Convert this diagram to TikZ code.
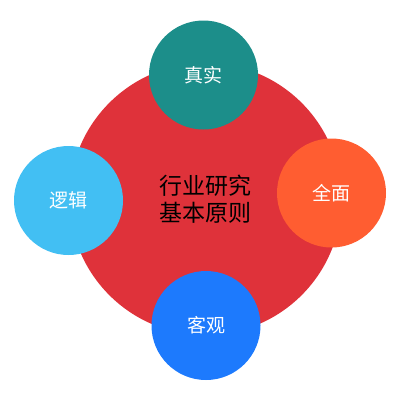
\documentclass[tikz,border=0pt]{standalone}
\usepackage{fontspec}
\newfontfamily\cjk{Noto Sans CJK SC}
\definecolor{bigred}{HTML}{DF323A}
\definecolor{cteal}{HTML}{1C8E8A}
\definecolor{corange}{HTML}{FF5D31}
\definecolor{cblue}{HTML}{1D7AFD}
\definecolor{clight}{HTML}{42BFF3}
\tikzset{
  sat/.style={circle, minimum size=109pt, inner sep=0pt, text=white, font=\cjk\fontsize{19}{22}\selectfont},
}
\begin{document}
\begin{tikzpicture}[x=1pt,y=-1pt]
\useasboundingbox (0,0) rectangle (400,400);
\node[circle, fill=bigred, minimum size=272pt, inner sep=0pt, align=center, font=\cjk\fontsize{23}{26.5}\selectfont] (core) at (205.5,199) {行业研究\\基本原则};
\node[sat, fill=cteal] (zs) at (203.5,75) {真实};
\node[sat, fill=corange] (qm) at (331.5,193) {全面};
\node[sat, fill=cblue] (kg) at (206,325.5) {客观};
\node[sat, fill=clight] (lj) at (68.5,200.5) {逻辑};
\end{tikzpicture}
\end{document}
